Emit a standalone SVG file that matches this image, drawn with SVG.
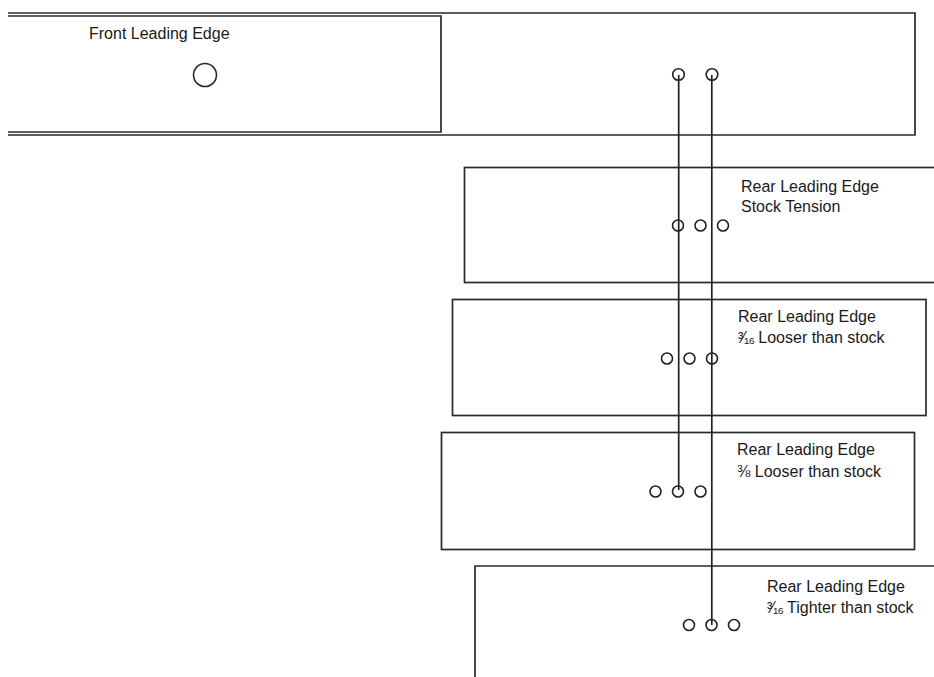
<svg xmlns="http://www.w3.org/2000/svg" width="934" height="677" viewBox="0 0 934 677">
<style>
.ln{stroke:#222;stroke-width:1.7;fill:none}
.box{stroke:#2a2a2a;stroke-width:1.7;fill:none}
.hole{stroke:#2a2a2a;stroke-width:1.6;fill:#fff}
.ohole{stroke:#222;stroke-width:1.6;fill:none}
text{font-family:"Liberation Sans",Arial,sans-serif;font-size:16px;fill:#1a1a1a}
.fr{letter-spacing:-1px}
</style>
<rect width="934" height="677" fill="#fff"/>
<g id="outer-front">
<path class="box" d="M8 13 H915 V135 H8"/>
</g>
<g id="front-leading-edge">
<path class="box" d="M8 16 H441 V132 H8"/>
<text x="89" y="39">Front Leading Edge</text>
<circle class="hole" cx="205" cy="75" r="11.5"/>
</g>
<g id="rear-stock">
<rect class="box" x="464.5" y="167.5" width="475" height="115"/>
<text x="741" y="192">Rear Leading Edge</text>
<text x="741" y="212">Stock Tension</text>
<circle class="ohole" cx="678" cy="225.5" r="5.5"/>
<circle class="ohole" cx="700.5" cy="225.5" r="5.5"/>
<circle class="ohole" cx="723" cy="225.5" r="5.5"/>
</g>
<g id="rear-316-looser">
<rect class="box" x="452.5" y="299.5" width="473.5" height="116"/>
<text x="738" y="322">Rear Leading Edge</text>
<text x="738" y="343"><tspan class="fr">³⁄₁₆</tspan> Looser than stock</text>
<circle class="ohole" cx="667" cy="358.5" r="5.5"/>
<circle class="ohole" cx="689.5" cy="358.5" r="5.5"/>
<circle class="ohole" cx="712" cy="358.5" r="5.5"/>
</g>
<g id="rear-38-looser">
<rect class="box" x="441.5" y="432.5" width="473" height="117"/>
<text x="737" y="455">Rear Leading Edge</text>
<text x="737" y="477">⅜ Looser than stock</text>
<circle class="ohole" cx="655.5" cy="491.5" r="5.5"/>
<circle class="ohole" cx="678" cy="491.5" r="5.5"/>
<circle class="ohole" cx="700.5" cy="491.5" r="5.5"/>
</g>
<g id="rear-316-tighter">
<path class="box" d="M475 680 V566 H940"/>
<text x="767" y="592">Rear Leading Edge</text>
<text x="767" y="613"><tspan class="fr">³⁄₁₆</tspan> Tighter than stock</text>
<circle class="ohole" cx="689" cy="625" r="5.5"/>
<circle class="ohole" cx="711.5" cy="625" r="5.5"/>
<circle class="ohole" cx="734" cy="625" r="5.5"/>
</g>
<g id="front-holes">
<circle class="ohole" cx="678.5" cy="74.5" r="5.8"/>
<circle class="ohole" cx="712" cy="74.5" r="5.8"/>
</g>
<g id="connectors">
<line class="ln" x1="678.7" y1="75" x2="678.7" y2="490"/>
<line class="ln" x1="711.8" y1="75" x2="711.8" y2="625"/>
</g>
</svg>
